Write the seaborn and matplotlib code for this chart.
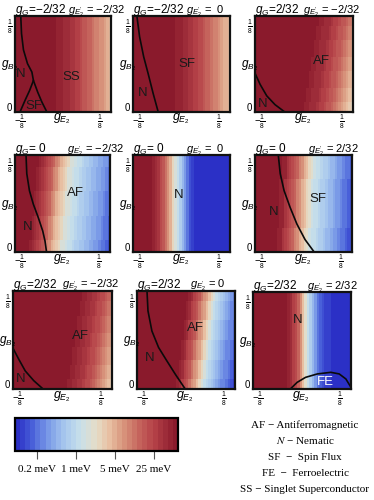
import matplotlib
matplotlib.use("Agg")
import matplotlib.pyplot as plt
import numpy as np
import pandas as pd
import seaborn as sns
from matplotlib.colors import LinearSegmentedColormap, ListedColormap, Normalize
from matplotlib.cm import ScalarMappable

plt.rcParams['font.family'] = ['Liberation Sans', 'DejaVu Sans']
plt.rcParams['mathtext.fontset'] = 'custom'
plt.rcParams['mathtext.rm'] = 'Liberation Sans'
plt.rcParams['mathtext.it'] = 'Liberation Sans:italic'
plt.rcParams['mathtext.bf'] = 'Liberation Sans:bold'

# ---------------- data ----------------
title_gG = ["\u22122/32", "\u22122/32", "2/32", " 0", " 0", " 0", "2/32", "2/32", "2/32"]
title_gE = ["\u22122/32", " 0", "\u22122/32", "\u22122/32", " 0", "2/32", "\u22122/32", "0", "2/32"]

# log10(gap / meV) across g_E2 (40 columns, bottom row of each panel)
gap_r1c1 = [1.83] * 12 + [1.82, 1.81, 1.79, 1.77, 1.75, 1.72, 1.69, 1.66, 1.63, 1.60, 1.56, 1.52,
                          1.47, 1.43, 1.38, 1.33, 1.28, 1.23, 1.17, 1.11, 1.06, 1.00, 0.94, 0.88,
                          0.83, 0.76, 0.69, 0.62]
gap_r1c2 = [1.83] * 13 + [1.82, 1.80, 1.78, 1.76, 1.73, 1.70, 1.67, 1.63, 1.59, 1.55, 1.51, 1.46,
                          1.41, 1.36, 1.30, 1.24, 1.18, 1.12, 1.06, 0.99, 0.93, 0.87, 0.80, 0.73,
                          0.66, 0.59]
gap_r1c3 = [1.83] * 15 + [1.82, 1.81, 1.79, 1.77, 1.745, 1.715, 1.68, 1.64, 1.60, 1.56, 1.51, 1.45,
                          1.39, 1.33, 1.265, 1.195, 1.12, 1.05, 0.965, 0.875, 0.78, 0.68, 0.58, 0.47, 0.37]
gap_r2c1 = [1.83, 1.83, 1.83, 1.83, 1.81, 1.74, 1.68, 1.61, 1.52, 1.43, 1.32, 1.21, 1.10, 0.98,
            0.86, 0.73, 0.60, 0.48, 0.37, 0.27, 0.20, 0.13, 0.07, 0.01, -0.04, -0.10, -0.16, -0.21,
            -0.26, -0.30, -0.35, -0.39, -0.44, -0.49, -0.54, -0.60, -0.66, -0.72, -0.78, -0.84]
gap_r2c2 = [1.83] * 7 + [1.80, 1.70, 1.59, 1.48, 1.36, 1.23, 1.07, 0.89, 0.68, 0.44, 0.22, 0.04,
                         -0.14, -0.33, -0.52, -0.69, -0.85, -0.97, -1.02] + [-1.04] * 14
gap_r2c3 = [1.83] * 8 + [1.80, 1.73, 1.65, 1.55, 1.44, 1.33, 1.22, 1.10, 0.98, 0.85, 0.70, 0.56,
                         0.41, 0.29, 0.18, 0.09, 0.02, -0.05, -0.10, -0.16, -0.22, -0.29, -0.36, -0.43,
                         -0.48, -0.54, -0.60, -0.66, -0.72, -0.78, -0.84, -0.90]
gap_r3c1 = [1.83] * 18 + [1.82, 1.81, 1.79, 1.76, 1.72, 1.68, 1.64, 1.59, 1.54, 1.49, 1.43, 1.36,
                          1.30, 1.23, 1.15, 1.07, 0.99, 0.90, 0.80, 0.71, 0.61, 0.50]
gap_r3c2 = [1.83] * 14 + [1.80, 1.74, 1.66, 1.56, 1.45, 1.33, 1.20, 1.06, 0.91, 0.74, 0.55, 0.37,
                          0.21, 0.08, -0.02, -0.12, -0.23, -0.32, -0.39, -0.47, -0.56, -0.64, -0.71,
                          -0.78, -0.85, -0.92]
gap_r3c3 = [1.83] * 12 + [1.80, 1.74, 1.66, 1.56, 1.44, 1.29, 1.11, 0.89, 0.60, 0.30, 0.06, -0.13,
                          -0.32, -0.50, -0.67, -0.78, -0.87, -0.93, -0.98, -1.00] + [-1.01] * 8
gaps = [gap_r1c1, gap_r1c2, gap_r1c3, gap_r2c1, gap_r2c2, gap_r2c3, gap_r3c1, gap_r3c2, gap_r3c3]
# rightward drift of the profile (in columns) from bottom to top of each panel
drift = [0, 0, 6, 4, 0, 2, 6, 5, 0]

# phase boundaries (g_E2, g_B2)
bnd_r1c1 = [([-0.110, -0.108, -0.103, -0.0925, -0.081, -0.077, -0.087, -0.099, -0.112],
             [0.125, 0.102, 0.081, 0.063, 0.052, 0.041, 0.028, 0.015, 0.0]),
            ([-0.077, -0.066, -0.055, -0.042], [0.041, 0.026, 0.013, 0.0])]
bnd_r1c2 = [([-0.115, -0.108, -0.0975, -0.086, -0.073, -0.060], [0.125, 0.098, 0.072, 0.050, 0.024, 0.0])]
bnd_r1c3 = [([-0.125, -0.112, -0.095, -0.074, -0.049], [0.0505, 0.036, 0.021, 0.0096, 0.0])]
bnd_r2c1 = [([-0.096, -0.094, -0.087, -0.077, -0.0635, -0.052, -0.046, -0.042],
             [0.125, 0.101, 0.079, 0.062, 0.044, 0.027, 0.014, 0.0])]
bnd_r2c2 = []
bnd_r2c3 = [([-0.065, -0.060, -0.050, -0.0345, -0.017, 0.004, 0.0275], [0.125, 0.101, 0.079, 0.0575, 0.036, 0.016, 0.0])]
bnd_r3c1 = [([-0.125, -0.1105, -0.094, -0.0725, -0.049], [0.052, 0.038, 0.023, 0.0106, 0.0])]
bnd_r3c2 = [([-0.0995, -0.097, -0.087, -0.070, -0.049, -0.0275, -0.002], [0.125, 0.0996, 0.074, 0.053, 0.036, 0.019, 0.0])]
bnd_r3c3 = [([-0.0298, -0.0123, 0.009, 0.039, 0.0735, 0.095, 0.112, 0.125],
             [0.0, 0.0086, 0.015, 0.0194, 0.0215, 0.0194, 0.0129, 0.0021])]
bounds = [bnd_r1c1, bnd_r1c2, bnd_r1c3, bnd_r2c1, bnd_r2c2, bnd_r2c3, bnd_r3c1, bnd_r3c2, bnd_r3c3]

# phase labels (text, g_E2, g_B2)
labels = [
    [("N", -0.109, 0.049), ("SS", 0.0215, 0.045), ("SF", -0.0768, 0.0075)],
    [("N", -0.101, 0.025), ("SF", 0.013, 0.062)],
    [("N", -0.1055, 0.011), ("AF", 0.0445, 0.067)],
    [("N", -0.0925, 0.032), ("AF", 0.033, 0.076)],
    [("N", -0.0078, 0.074)],
    [("N", -0.0775, 0.051), ("SF", 0.036, 0.068)],
    [("N", -0.106, 0.0125), ("AF", 0.0445, 0.068)],
    [("N", -0.093, 0.040), ("AF", 0.023, 0.078)],
    [("N", -0.011, 0.089), ("FE", 0.0605, 0.009)],
]

cbar_ticks_meV = [0.2, 1, 5, 25]
cbar_ticklabels = ["0.2 meV", "1 meV", "5 meV", "25 meV"]
legend_lines = ["AF \u2212 Antiferromagnetic", "$N$ \u2212 Nematic", "SF  \u2212  Spin Flux",
                "FE  \u2212  Ferroelectric", "SS \u2212 Singlet Superconductor"]

# ---------------- style ----------------
nodes = [(0.00, "#2b30c6"), (0.10, "#4b63da"), (0.20, "#7e9fe8"), (0.30, "#a8c8ee"),
         (0.40, "#c8e0ea"), (0.50, "#e6dcc6"), (0.58, "#e8bfa2"), (0.66, "#da9a80"),
         (0.76, "#c86a60"), (0.86, "#b54248"), (1.00, "#8a1a2c")]
base = LinearSegmentedColormap.from_list("gap", nodes)
cmap = ListedColormap(base(np.linspace(0, 1, 32)))
norm = Normalize(vmin=-1.1, vmax=1.83)

W, H = 374, 500
fig = plt.figure(figsize=(W / 100, H / 100), dpi=100)

def add_ax(l, t, w, h):
    return fig.add_axes([l / W, 1 - (t + h) / H, w / W, h / H])

positions = [(15, 16, 96, 96), (133, 16, 97, 96), (255, 16, 98, 96),
             (15, 155, 95, 97), (133, 155, 97, 97), (255, 155, 97, 97),
             (13, 291, 99, 98), (137, 291, 98, 98), (253, 292, 98, 97)]
title_offset = [0.55, 0.55, 0.49, 0.55, 0.55, 0.55, 0.50, 0.54, 0.55]

NR = 40
for i in range(9):
    prof = gaps[i]
    nc = len(prof)
    rows = []
    for r in range(NR):
        s = int(round(drift[i] * r / (NR - 1)))
        rows.append([prof[min(max(j - s, 0), nc - 1)] for j in range(nc)])
    grid = pd.DataFrame(rows[::-1])
    ax = add_ax(*positions[i])
    sns.heatmap(grid, ax=ax, cmap=cmap, norm=norm, cbar=False,
                xticklabels=False, yticklabels=False)
    ax.set_xlabel(""); ax.set_ylabel("")
    for sp in ax.spines.values():
        sp.set_visible(False)

    ov = ax.inset_axes([0, 0, 1, 1])
    ov.set_xlim(-1 / 8, 1 / 8)
    ov.set_ylim(0, 1 / 8)
    ov.patch.set_alpha(0)
    ov.set_xticks([]); ov.set_yticks([])
    for sp in ov.spines.values():
        sp.set_linewidth(1.6); sp.set_color("#111111"); sp.set_visible(True)
    for gx, gy in bounds[i]:
        ov.plot(gx, gy, color="#0a0a0a", lw=1.2, solid_joinstyle="round")
    for txt, lx, ly in labels[i]:
        col = "white" if txt == "FE" else "#1a1a1a"
        ov.text(lx, ly, txt, ha="center", va="center", fontsize=9.5, color=col)

    tr = ov.transAxes
    ov.text(0.0, 1.035, "$g_G$=" + title_gG[i], transform=tr, ha="left", va="baseline", fontsize=8.5)
    ov.text(title_offset[i], 1.035, "$g_{E_2'}$ = " + title_gE[i], transform=tr, ha="left",
            va="baseline", fontsize=8)
    ov.text(-0.055, 0.985, r"$\frac{1}{8}$", transform=tr, ha="center", va="top", fontsize=7)
    ov.text(-0.055, 0.04, "0", transform=tr, ha="center", va="center", fontsize=7)
    ov.text(-0.145, 0.48, "$g_{B_2}$", transform=tr, ha="left", va="center", fontsize=8.5)
    ov.text(0.05, -0.10, r"$-\frac{1}{8}$", transform=tr, ha="center", va="center", fontsize=7)
    ov.text(0.885, -0.10, r"$\frac{1}{8}$", transform=tr, ha="center", va="center", fontsize=7)
    ov.text(0.49, -0.075, "$g_{E_2}$", transform=tr, ha="center", va="center", fontsize=9)

# colorbar
cax = add_ax(15, 418, 163, 33)
sm = ScalarMappable(norm=norm, cmap=cmap)
cb = fig.colorbar(sm, cax=cax, orientation="horizontal", ticks=np.log10(cbar_ticks_meV))
cb.set_ticklabels(cbar_ticklabels)
cb.outline.set_linewidth(1.6)
cb.ax.tick_params(axis="x", length=6, width=0.8, color="#555555", pad=4)
for lab in cb.ax.get_xticklabels():
    lab.set_fontfamily("Liberation Serif")
    lab.set_fontsize(8)

# legend text
ys = [425, 441, 457, 473, 489]
for line, y in zip(legend_lines, ys):
    fig.text(305 / W, 1 - y / H, line, ha="center", va="center", fontsize=8,
             family="Liberation Serif", math_fontfamily="stix")

fig.savefig("out.png", dpi=100)
